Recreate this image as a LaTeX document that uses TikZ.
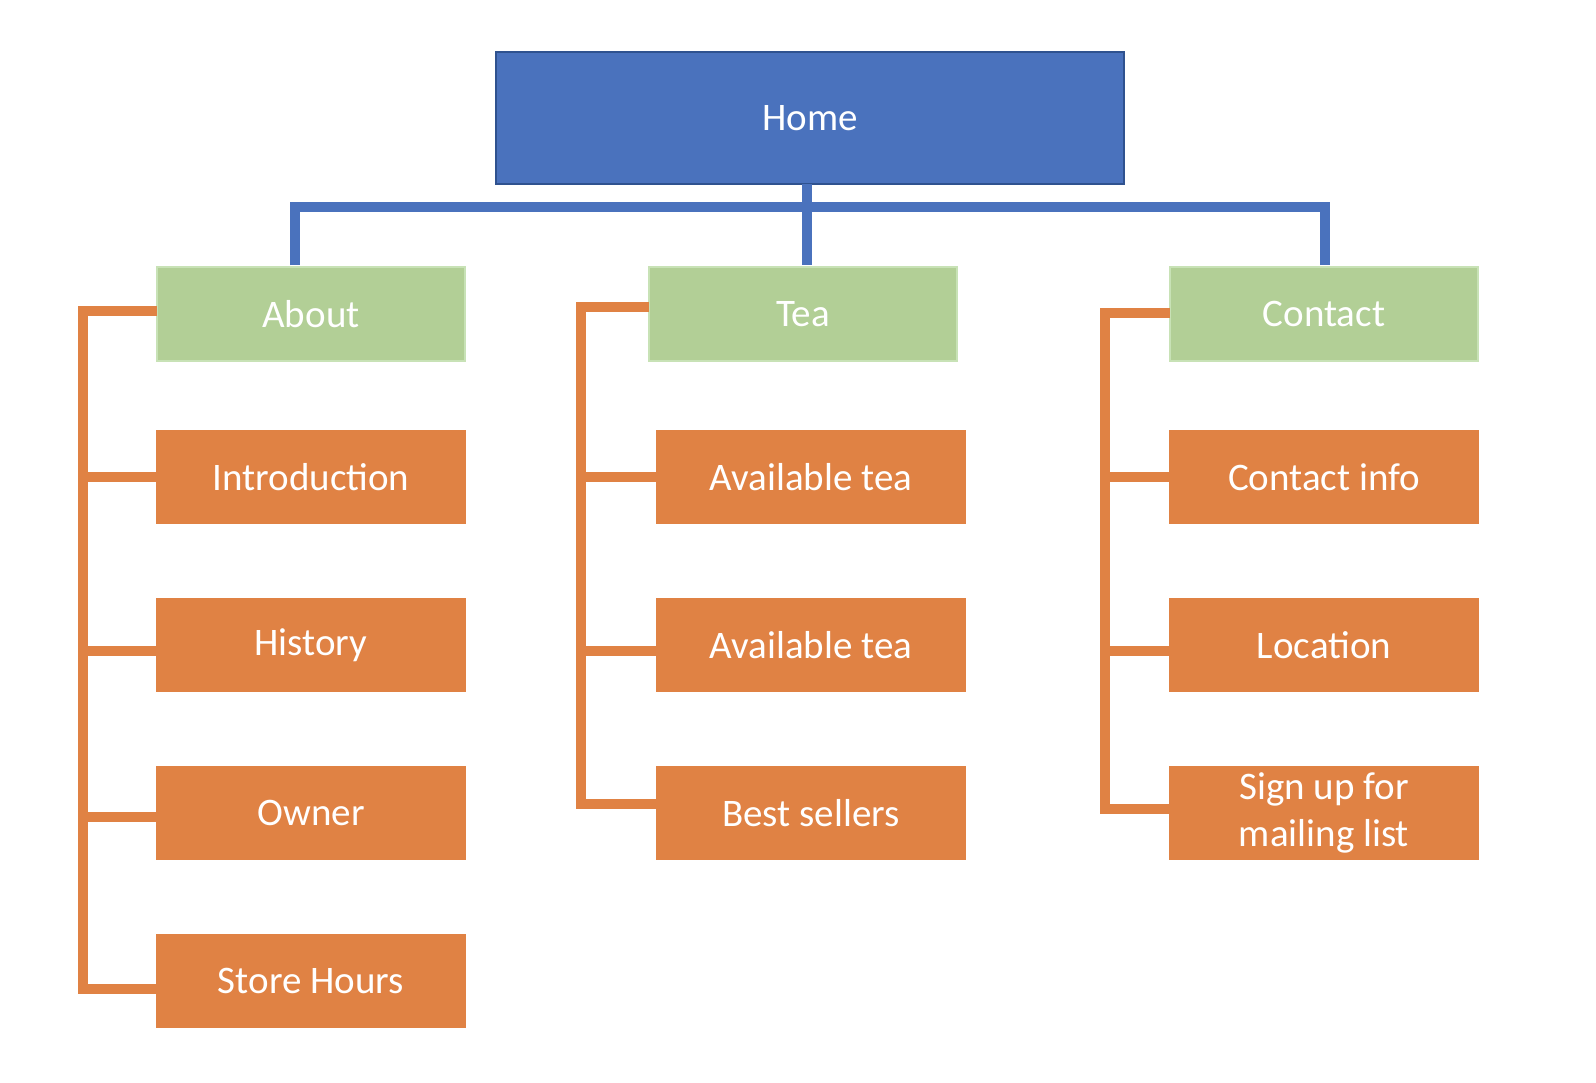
\documentclass[tikz,border=0pt]{standalone}
\usepackage{fontspec}
\setmainfont{Carlito}
\definecolor{hblue}{HTML}{4A72BD}
\definecolor{hblueb}{HTML}{2F528F}
\definecolor{hgreen}{HTML}{B2CF96}
\definecolor{hgreenb}{HTML}{C8E2B6}
\definecolor{horange}{HTML}{E08244}
\tikzset{
  lbl/.style={text=white, font=\fontsize{39}{47}\selectfont, align=center, inner sep=0pt},
  homebox/.style={lbl, rectangle, fill=hblue, draw=hblueb, line width=1.5pt, minimum width=628pt, minimum height=132pt},
  secbox/.style={lbl, rectangle, fill=hgreen, draw=hgreenb, line width=2pt, minimum width=308pt, minimum height=94pt},
  pagebox/.style={lbl, rectangle, fill=horange, minimum width=310pt, minimum height=94pt},
  bline/.style={draw=hblue, line width=10pt, line join=miter},
  oline/.style={draw=horange, line width=10pt, line join=miter}
}
\begin{document}
\begin{tikzpicture}[x=1pt,y=-1pt]
\useasboundingbox (0,0) rectangle (1596,1082);
\fill[white] (0,0) rectangle (1596,1082);

% nodes
\node[homebox] (home) at (810,118) {Home};
\node[secbox] (about) at (311,314) {About};
\node[secbox] (tea) at (803,314) {Tea};
\node[secbox] (contact) at (1324,314) {Contact};

\node[pagebox] (intro) at (311,477) {Introduction};
\node[pagebox] (hist) at (311,645) {History};
\node[pagebox] (owner) at (311,813) {Owner};
\node[pagebox] (hours) at (311,980.5) {Store Hours};

\node[pagebox] (avail1) at (811,477) {Available tea};
\node[pagebox] (avail2) at (811,645) {Available tea};
\node[pagebox] (best) at (811,813) {Best sellers};

\node[pagebox] (cinfo) at (1324,477) {Contact info};
\node[pagebox] (loc) at (1324,645) {Location};
\node[pagebox] (sign) at (1324,813) {Sign up for\\mailing list};

% blue connectors
\coordinate (busL) at (295,207);
\coordinate (busR) at (1325,207);
\draw[bline] ([xshift=-16pt,yshift=1pt]about.north) -- (busL) -- (busR) -- ([xshift=1pt,yshift=1pt]contact.north);
\draw[bline] ([xshift=-3pt,yshift=0.75pt]home.south) -- ([xshift=4pt,yshift=1pt]tea.north);

% orange: About
\coordinate (aT) at ([yshift=3pt,xshift=1pt]about.west);
\coordinate (aB) at ([yshift=-8.5pt]hours.west);
\coordinate (aTop) at (83,311);
\coordinate (aBot) at (83,989);
\draw[oline] (aT) -- (aTop) -- (aBot) -- (aB);
\draw[oline] (aTop |- intro.west) -- (intro.west);
\coordinate (h2) at ([yshift=-6pt]hist.west);
\draw[oline] (aTop |- h2) -- (h2);
\coordinate (o2) at ([yshift=-4pt]owner.west);
\draw[oline] (aTop |- o2) -- (o2);

% orange: Tea
\coordinate (tT) at ([yshift=7pt,xshift=1pt]tea.west);
\coordinate (tB) at ([yshift=9pt]best.west);
\coordinate (tTop) at (581,307);
\coordinate (tBot) at (581,804);
\draw[oline] (tT) -- (tTop) -- (tBot) -- (tB);
\draw[oline] (tTop |- avail1.west) -- (avail1.west);
\coordinate (v2) at ([yshift=-6pt]avail2.west);
\draw[oline] (tTop |- v2) -- (v2);

% orange: Contact
\coordinate (cT) at ([yshift=1pt,xshift=1pt]contact.west);
\coordinate (cB) at ([yshift=4pt]sign.west);
\coordinate (cTop) at (1105,313);
\coordinate (cBot) at (1105,809);
\draw[oline] (cT) -- (cTop) -- (cBot) -- (cB);
\draw[oline] (cTop |- cinfo.west) -- (cinfo.west);
\coordinate (l2) at ([yshift=-6pt]loc.west);
\draw[oline] (cTop |- l2) -- (l2);
\end{tikzpicture}
\end{document}
